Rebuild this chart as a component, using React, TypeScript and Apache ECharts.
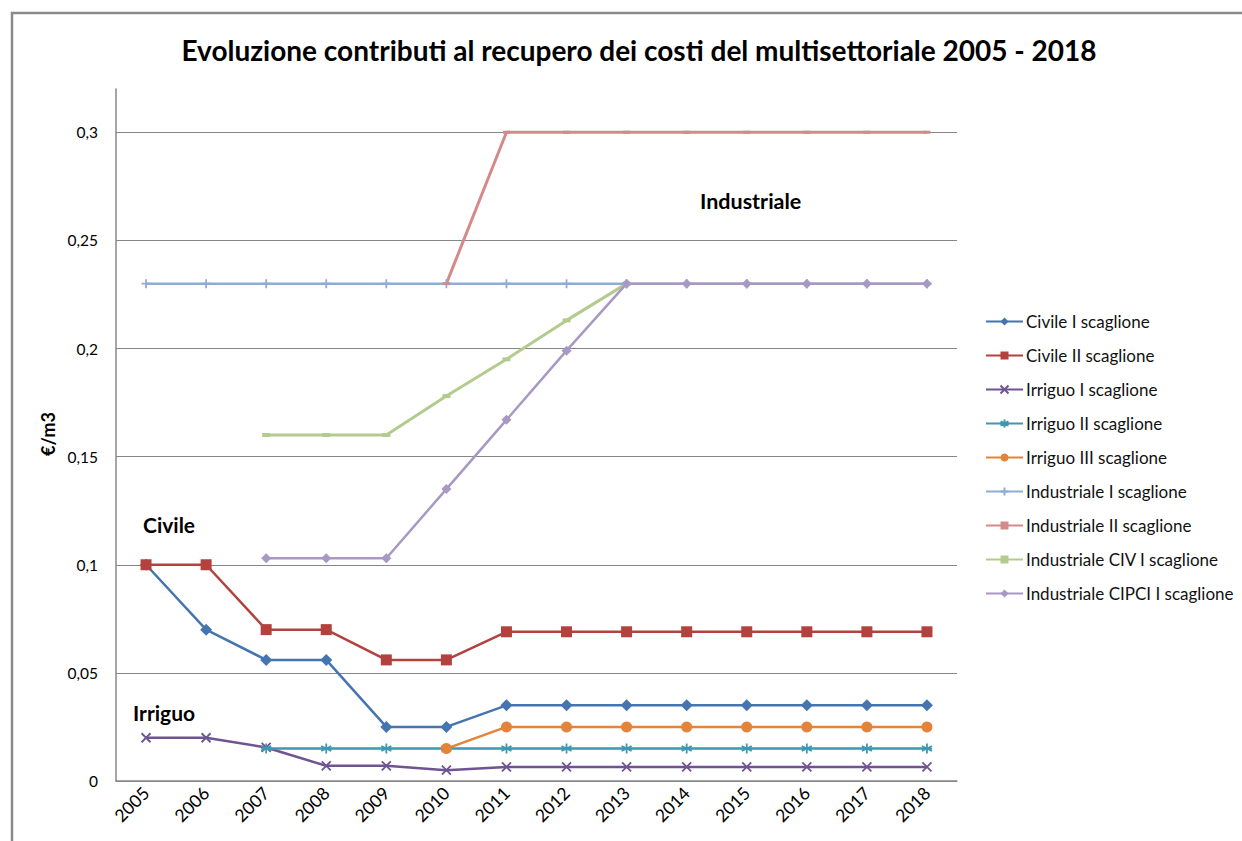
import React, { useEffect, useRef } from "react";
import * as echarts from "echarts";

const years = ["2005", "2006", "2007", "2008", "2009", "2010", "2011", "2012", "2013", "2014", "2015", "2016", "2017", "2018"];

const civileI = [0.1, 0.07, 0.056, 0.056, 0.025, 0.025, 0.035, 0.035, 0.035, 0.035, 0.035, 0.035, 0.035, 0.035];
const civileII = [0.1, 0.1, 0.07, 0.07, 0.056, 0.056, 0.069, 0.069, 0.069, 0.069, 0.069, 0.069, 0.069, 0.069];
const irriguoI = [0.02, 0.02, 0.0155, 0.007, 0.007, 0.005, 0.0065, 0.0065, 0.0065, 0.0065, 0.0065, 0.0065, 0.0065, 0.0065];
const irriguoII = [null, null, 0.015, 0.015, 0.015, 0.015, 0.015, 0.015, 0.015, 0.015, 0.015, 0.015, 0.015, 0.015];
const irriguoIII = [null, null, null, null, null, 0.015, 0.025, 0.025, 0.025, 0.025, 0.025, 0.025, 0.025, 0.025];
const industrialeI = [0.23, 0.23, 0.23, 0.23, 0.23, 0.23, 0.23, 0.23, 0.23, 0.23, 0.23, 0.23, 0.23, 0.23];
const industrialeII = [null, null, null, null, null, 0.23, 0.3, 0.3, 0.3, 0.3, 0.3, 0.3, 0.3, 0.3];
const industrialeCIV = [null, null, 0.16, 0.16, 0.16, 0.178, 0.195, 0.213, 0.23, null, null, null, null, null];
const industrialeCIPCI = [null, null, 0.103, 0.103, 0.103, 0.135, 0.167, 0.199, 0.23, 0.23, 0.23, 0.23, 0.23, 0.23];

const FONT = "Lato, 'Open Sans', sans-serif";

const crossPath = "path://M0,0L10,10M10,0L0,10";
const starPath = "path://M5,0L5,10M0,2.5L10,7.5M0,7.5L10,2.5M0,5L10,5";
const plusPath = "path://M5,0L5,10M0,5L10,5";

function mk(name: string, data: (number | null)[], color: string, symbol: string, size: any, stroke = false, width = 2.5) {
  return {
    name,
    type: "line",
    data,
    connectNulls: false,
    symbol,
    symbolSize: size,
    showSymbol: true,
    lineStyle: { color, width },
    itemStyle: stroke
      ? { color: "rgba(0,0,0,0)", borderColor: color, borderWidth: 1.8 }
      : { color, borderWidth: 0 },
    emphasis: { disabled: true },
  };
}

export default function App() {
  const ref = useRef<HTMLDivElement>(null);
  useEffect(() => {
    if (!ref.current) return;
    const chart = echarts.init(ref.current, undefined, { renderer: "svg" });
    chart.setOption({
      animation: false,
      backgroundColor: "#ffffff",
      textStyle: { fontFamily: FONT },
      title: {
        text: "Evoluzione contributi al recupero dei costi del multisettoriale 2005 - 2018",
        left: 634,
        textAlign: "center",
        top: 31,
        textStyle: { fontFamily: FONT, fontSize: 28, fontWeight: "bold", color: "#000" },
      },
      grid: { left: 116, right: 285, top: 89, bottom: 60, containLabel: false },
      xAxis: {
        type: "category",
        data: years,
        boundaryGap: true,
        axisLine: { lineStyle: { color: "#888", width: 1.5 } },
        axisTick: { show: false },
        axisLabel: { rotate: 45, fontSize: 17.5, color: "#000", fontFamily: FONT, margin: 9 },
        splitLine: { show: false },
      },
      yAxis: {
        type: "value",
        min: 0,
        max: 0.32,
        interval: 0.05,
        axisLine: { show: true, lineStyle: { color: "#888", width: 1.5 } },
        axisTick: { show: false },
        axisLabel: {
          fontSize: 15.5,
          color: "#000",
          fontFamily: FONT,
          margin: 18,
          showMaxLabel: false,
          formatter: (v: number) => String(+v.toFixed(2)).replace(".", ","),
        },
        splitLine: { show: true, showMaxLine: false, lineStyle: { color: "#868686", width: 1 } },
      },
      legend: {
        orient: "vertical",
        left: 980,
        top: 308,
        itemWidth: 37,
        itemHeight: 10,
        itemGap: 17,
        textStyle: { fontFamily: FONT, fontSize: 17, color: "#111", padding: [0, 0, 0, -2] },
      },
      graphic: [
        {
          type: "rect",
          shape: { x: 12, y: 13, width: 1300, height: 900 },
          style: { fill: "none", stroke: "#8a8a8a", lineWidth: 2.5 },
          silent: true,
        },
        {
          type: "text",
          x: 48,
          y: 434,
          rotation: Math.PI / 2,
          style: { text: "€/m3", font: `bold 18px ${FONT}`, fill: "#000", align: "center", verticalAlign: "middle" },
        },
        { type: "text", left: 143, top: 514, style: { text: "Civile", font: `bold 21px ${FONT}`, fill: "#000" } },
        { type: "text", left: 133, top: 702, style: { text: "Irriguo", font: `bold 21px ${FONT}`, fill: "#000" } },
        { type: "text", left: 700, top: 190, style: { text: "Industriale", font: `bold 21.5px ${FONT}`, fill: "#000" } },
      ],
      series: [
        mk("Civile I scaglione", civileI, "#4575B0", "diamond", 12),
        mk("Civile II scaglione", civileII, "#B3413E", "rect", 11),
        mk("Irriguo I scaglione", irriguoI, "#6F5392", crossPath, 9, true),
        mk("Irriguo II scaglione", irriguoII, "#3E98B0", starPath, 10, true),
        mk("Irriguo III scaglione", irriguoIII, "#E3843A", "circle", 11),
        mk("Industriale I scaglione", industrialeI, "#8FACD6", plusPath, 9, true, 2.5),
        mk("Industriale II scaglione", industrialeII, "#D28B89", "rect", [7, 3], false, 3),
        mk("Industriale CIV I scaglione", industrialeCIV, "#B3CB8D", "rect", [8, 4], false, 3),
        mk("Industriale CIPCI I scaglione", industrialeCIPCI, "#A898C3", "diamond", 10, false, 2.5),
      ],
    });
    return () => chart.dispose();
  }, []);
  return <div ref={ref} style={{ position: "absolute", left: 0, top: 0, width: 1242, height: 841 }} />;
}
